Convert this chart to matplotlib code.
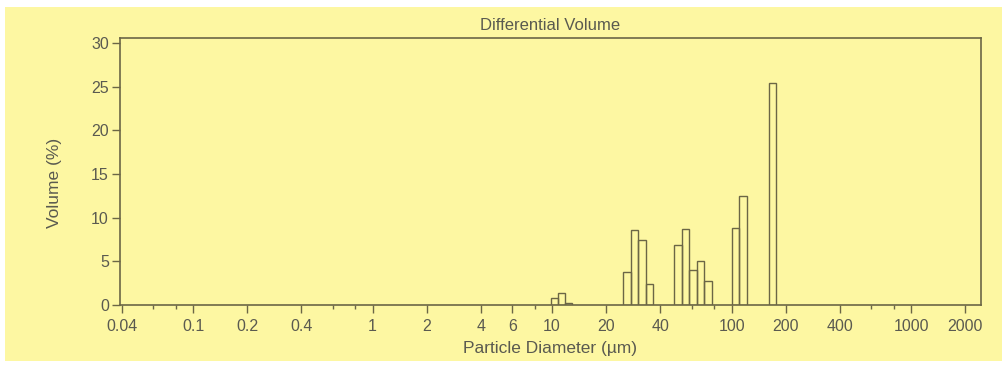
import numpy as np
import matplotlib.pyplot as plt
from matplotlib.patches import Rectangle
from matplotlib.ticker import FixedLocator, FixedFormatter, NullFormatter

# size bins (um): lower and upper edge of each bar
bin_lo = [9.83, 10.76, 11.77,
          24.8, 27.4, 30.1, 33.3,
          48.0, 52.8, 58.2, 64.0, 70.5,
          100.6, 110.5,
          161.2]
bin_hi = [10.76, 11.77, 12.96,
          27.4, 30.1, 33.3, 36.5,
          52.8, 58.2, 64.0, 70.5, 77.6,
          110.5, 122.0,
          177.7]
volume = [0.77, 1.33, 0.2,
          3.8, 8.55, 7.45, 2.45,
          6.83, 8.67, 4.0, 5.04, 2.8,
          8.78, 12.5,
          25.4]

major_ticks = [0.04, 0.1, 0.2, 0.4, 1, 2, 4, 6, 10, 20, 40, 100, 200, 400, 1000, 2000]
major_labels = ["0.04", "0.1", "0.2", "0.4", "1", "2", "4", "6", "10", "20", "40",
                "100", "200", "400", "1000", "2000"]
minor_ticks = [0.06, 0.08, 0.6, 0.8, 8, 60, 80, 600, 800]
y_ticks = [0, 5, 10, 15, 20, 25, 30]

plt.rcParams["font.family"] = ["Liberation Sans", "DejaVu Sans"]

bg = "#fdf7a2"
line_col = "#6b6646"
text_col = "#5a5a50"

fig = plt.figure(figsize=(10.03, 3.69), dpi=100)
fig.patch.set_facecolor("white")
fig.patches.append(Rectangle((5 / 1003, 8 / 369), 1 - 5 / 1003, 354 / 369,
                             transform=fig.transFigure, facecolor=bg,
                             edgecolor="none", zorder=-10))

ax = fig.add_axes([120 / 1003, 1 - 305 / 369, 861 / 1003, 267 / 369])
ax.set_facecolor(bg)

lo = np.array(bin_lo)
hi = np.array(bin_hi)
ax.bar(lo, volume, width=hi - lo, align="edge", fill=False,
       edgecolor=line_col, linewidth=1.0)

ax.set_xscale("log")
ax.set_xlim(0.0392, 2450)
ax.set_ylim(0, 30.6)

ax.xaxis.set_major_locator(FixedLocator(major_ticks))
ax.xaxis.set_major_formatter(FixedFormatter(major_labels))
ax.xaxis.set_minor_locator(FixedLocator(minor_ticks))
ax.xaxis.set_minor_formatter(NullFormatter())
ax.set_yticks(y_ticks)

ax.tick_params(axis="both", which="major", length=5.5, width=1.0, color=line_col,
               labelcolor=text_col, labelsize=11.5, pad=2.5)
ax.tick_params(axis="x", which="major", pad=4.5)
ax.tick_params(axis="x", which="minor", length=3, width=1.0, color=line_col)

for s in ax.spines.values():
    s.set_color(line_col)
    s.set_linewidth(1.2)

ax.set_title("Differential Volume", fontsize=12, color=text_col, pad=6)
ax.set_xlabel("Particle Diameter (µm)", fontsize=12.5, color=text_col, labelpad=5)
ax.set_ylabel("Volume (%)", fontsize=12.5, color=text_col)
ax.yaxis.set_label_coords(-0.067, 0.457)

fig.savefig("out.png", dpi=100, facecolor=fig.get_facecolor())
